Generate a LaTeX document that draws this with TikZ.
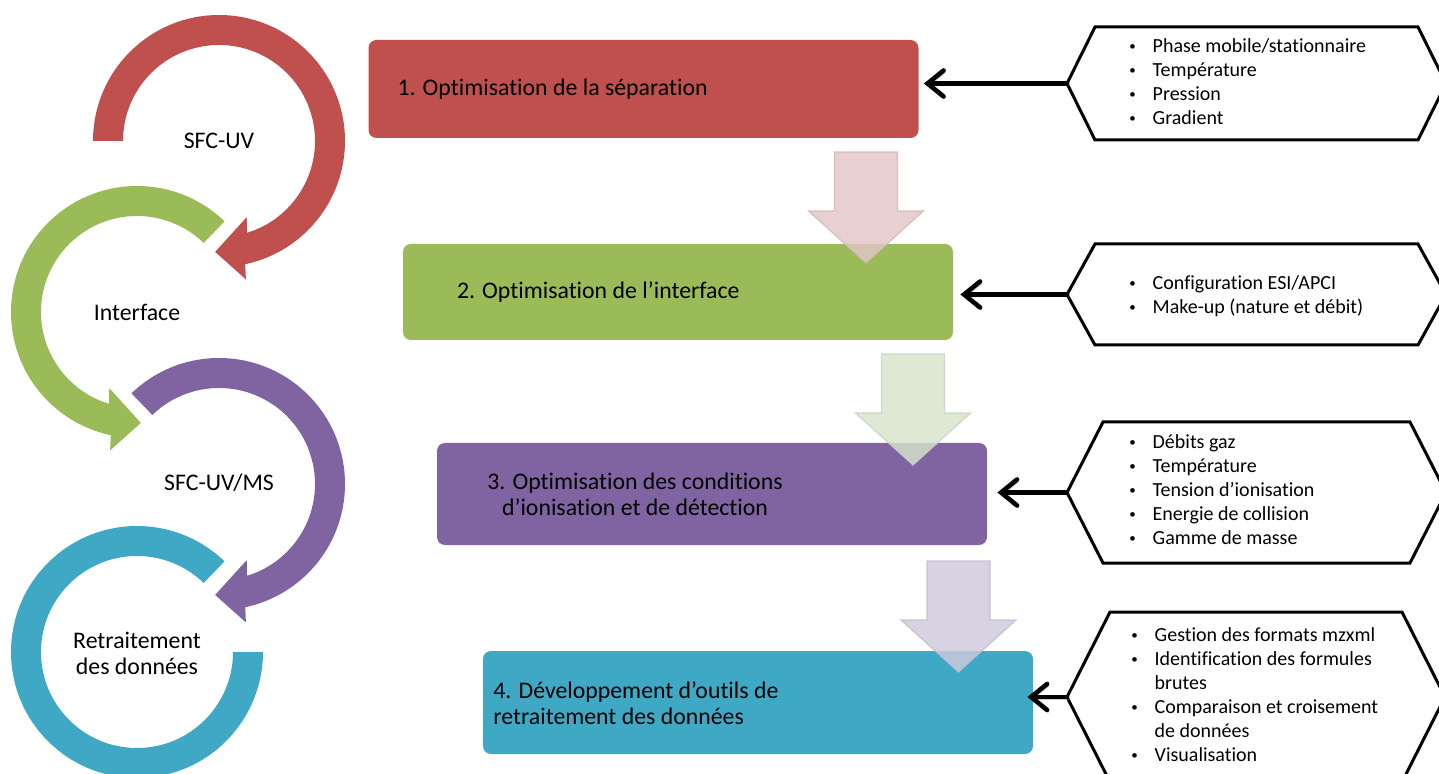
\documentclass[tikz,border=0pt]{standalone}
\usepackage{fontspec}
\setmainfont{Carlito}[Ligatures=NoCommon]
\usetikzlibrary{arrows.meta,calc,positioning}

\definecolor{cyclered}{HTML}{C0504D}
\definecolor{cyclegreen}{HTML}{9BBB59}
\definecolor{cyclepurple}{HTML}{8064A2}
\definecolor{cycleteal}{HTML}{3FA9C5}
\definecolor{flowred}{RGB}{227,198,198}
\definecolor{flowgreen}{RGB}{214,227,204}
\definecolor{flowpurple}{RGB}{208,202,221}

\newcommand\pbullet{\raisebox{1.2pt}{\fontsize{6.5}{6.5}\selectfont\textbullet}}

\tikzset{
    stage/.style={rounded corners=4pt, minimum width=275pt, inner sep=0pt},
    stagetext/.style={font=\fontsize{11.9}{13}\selectfont, align=left, inner sep=0pt},
    cyclelabel/.style={font=\fontsize{11.9}{13}\selectfont, align=center, inner sep=0pt},
    paramlist/.style={font=\fontsize{10}{12}\selectfont, inner sep=0pt, anchor=west},
    hexbox/.style={line width=1.5pt, line join=miter},
    link/.style={line width=2.3pt, line cap=round,
        -{Straight Barb[length=8pt, width=13pt, line cap=round]},
        preaction={draw=black!40, opacity=0.5, transform canvas={shift={(0.8pt,-1.2pt)}}}},
    flow/.style={opacity=0.83, line width=0.6pt}
}

\begin{document}
\begin{tikzpicture}[x=0.5pt, y=-0.5pt]
    \useasboundingbox (0,0) rectangle (1439,774);

    % circular arrows on the left
    \begin{scope}[shift={(137,652)}]
        \fill[cycleteal] (314:126) arc[start angle=314, end angle=0, radius=126]
            -- (0:96) arc[start angle=0, end angle=314, radius=96] -- cycle;
    \end{scope}
    \begin{scope}[shift={(219,484)}]
        \fill[cyclepurple] (226:126) arc[start angle=226, end angle=438, radius=126]
            -- (439:141) -- (452:111) -- (430:81) -- (433:96)
            arc[start angle=433, end angle=226, radius=96] -- cycle;
    \end{scope}
    \begin{scope}[shift={(137,312)}]
        \fill[cyclegreen] (314:126) arc[start angle=314, end angle=102, radius=126]
            -- (101:141) -- (88:111) -- (110:81) -- (107:96)
            arc[start angle=107, end angle=314, radius=96] -- cycle;
    \end{scope}
    \begin{scope}[shift={(219,141)}]
        \fill[cyclered] (180:126) arc[start angle=180, end angle=438, radius=126]
            -- (439:141) -- (452:111) -- (430:81) -- (433:96)
            arc[start angle=433, end angle=180, radius=96] -- cycle;
    \end{scope}

    \node[cyclelabel] (sfcuv) at (219,141) {SFC-UV};
    \node[cyclelabel] (iface) at (137,312) {Interface};
    \node[cyclelabel] (sfcms) at (219,483) {SFC-UV/MS};
    \node[cyclelabel] (retrait) at (137,653) {Retraitement\\des données};

    % stages
    \node[stage, fill=cyclered, minimum height=49pt] (s1) at (643.5,89) {};
    \node[stage, fill=cyclegreen, minimum height=48pt] (s2) at (678,292) {};
    \node[stage, fill=cyclepurple, minimum height=51pt] (s3) at (712,494) {};
    \node[stage, fill=cycleteal, minimum height=51.5pt] (s4) at (758,702.5) {};

    \node[stagetext, anchor=west] (t1) at ($(s1.west)+(29,0)$) {1. Optimisation de la séparation};
    \node[stagetext, anchor=west] (t2) at ($(s2.west)+(54,0)$) {2. Optimisation de l’interface};
    \node[stagetext, align=center] (t3) at (635,494) {3. Optimisation des conditions\\d’ionisation et de détection};
    \node[stagetext, anchor=west] (t4) at (493,703) {4. Développement d’outils de\\retraitement des données};

    % down arrows between stages
    \foreach \cx/\ty/\col in {866/152/flowred, 913/354/flowgreen, 958.5/561/flowpurple}
        \draw[flow, fill=\col, draw=\col!93!black] (\cx-31.5,\ty) -- (\cx+31.5,\ty) -- (\cx+31.5,\ty+59)
            -- (\cx+57.5,\ty+59) -- (\cx,\ty+111) -- (\cx-57.5,\ty+59) -- (\cx-31.5,\ty+59) -- cycle;

    % parameter hexagons
    \draw[hexbox] (1067,83.5) coordinate (h1) -- (1095,27) -- (1418,27) -- (1446,83.5)
        -- (1418,140) -- (1095,140) -- cycle;
    \draw[hexbox] (1067,294.5) coordinate (h2) -- (1095,244) -- (1418,244) -- (1446,294.5)
        -- (1418,345) -- (1095,345) -- cycle;
    \draw[hexbox] (1067,492.5) coordinate (h3) -- (1103,422) -- (1410,422) -- (1446,492.5)
        -- (1410,563) -- (1103,563) -- cycle;
    \draw[hexbox] (1067,697) coordinate (h4) -- (1110,612) -- (1402,612) -- (1445,697)
        -- (1402,782) -- (1110,782) -- cycle;

    \node[paramlist] (p1) at (1129,84) {\begin{tabular}{@{}l@{\hspace{8.4pt}}l@{}}
        \pbullet & Phase mobile/stationnaire\\
        \pbullet & Température\\
        \pbullet & Pression\\
        \pbullet & Gradient
    \end{tabular}};
    \node[paramlist] (p2) at (1129,297) {\begin{tabular}{@{}l@{\hspace{8.4pt}}l@{}}
        \pbullet & Configuration ESI/APCI\\
        \pbullet & Make-up (nature et débit)
    \end{tabular}};
    \node[paramlist] (p3) at (1129,492) {\begin{tabular}{@{}l@{\hspace{8.4pt}}l@{}}
        \pbullet & Débits gaz\\
        \pbullet & Température\\
        \pbullet & Tension d’ionisation\\
        \pbullet & Energie de collision\\
        \pbullet & Gamme de masse
    \end{tabular}};
    \node[paramlist] (p4) at (1131,697) {\begin{tabular}{@{}l@{\hspace{8.4pt}}l@{}}
        \pbullet & Gestion des formats mzxml\\
        \pbullet & Identification des formules\\
                 & brutes\\
        \pbullet & Comparaison et croisement\\
                 & de données\\
        \pbullet & Visualisation
    \end{tabular}};

    % connectors
    \draw[link] (h1) -- ($(s1.east |- h1)+(5,0)$);
    \draw[link] (h2) -- ($(s2.east |- h2)+(7,0)$);
    \draw[link] (h3) -- ($(s3.east |- h3)+(10,0)$);
    \draw[link] (h4) -- ($(s4.east |- h4)+(-6,0)$);
\end{tikzpicture}
\end{document}
